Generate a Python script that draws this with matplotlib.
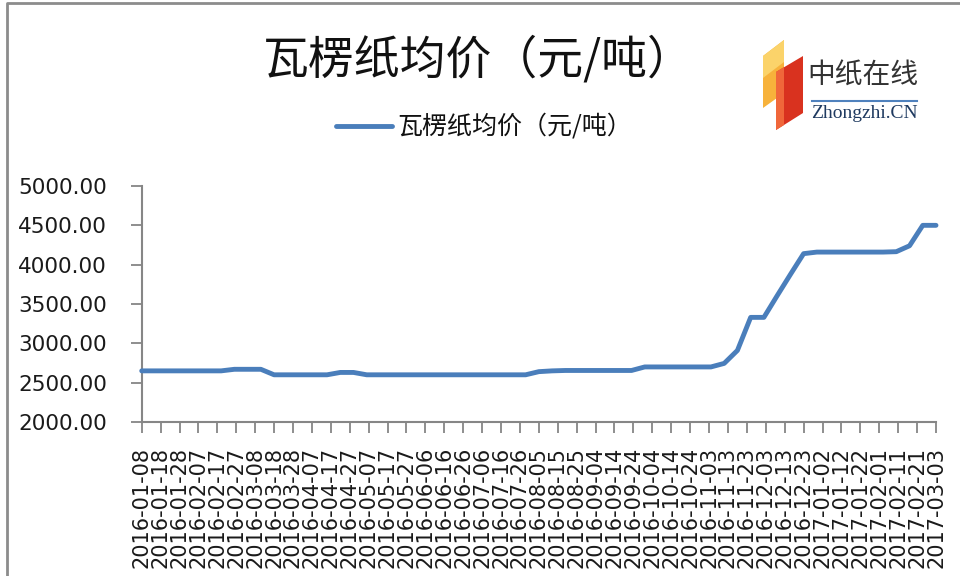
import matplotlib
matplotlib.use('Agg')
import matplotlib.pyplot as plt
import pandas as pd
import numpy as np
from matplotlib.patches import Polygon
from matplotlib.lines import Line2D

# ---------------- data ----------------
title_text = '瓦楞纸均价（元/吨）'
series_name = '瓦楞纸均价（元/吨）'
start_date = '2016-01-08'
end_date = '2017-03-03'
# weekly average price (yuan/ton), one value per week starting 2016-01-08
prices = [
    2650, 2650, 2650, 2650, 2650, 2650, 2650,          # 01-08 .. 02-19
    2670, 2670, 2670,                                  # 02-26 .. 03-11
    2600, 2600, 2600, 2600, 2600,                      # 03-18 .. 04-15
    2630, 2630,                                        # 04-22, 04-29
    2600, 2600, 2600, 2600, 2600, 2600, 2600, 2600,    # 05-06 .. 06-24
    2600, 2600, 2600, 2600, 2600,                      # 07-01 .. 07-29
    2640, 2650, 2655, 2655, 2655, 2655, 2655, 2655,    # 08-05 .. 09-23
    2700, 2700, 2700, 2700, 2700, 2700,                # 09-30 .. 11-04
    2745, 2910, 3330, 3330, 3605, 3875, 4140,          # 11-11 .. 12-23
    4160, 4160, 4160, 4160, 4160, 4160, 4165,          # 12-30 .. 2017-02-10
    4240, 4500, 4500,                                  # 02-17 .. 03-03
]
y_ticks = [2000, 2500, 3000, 3500, 4000, 4500, 5000]
logo_cn = '中纸在线'
logo_en = 'Zhongzhi.CN'

dates = pd.date_range(start_date, periods=len(prices), freq='7D')
tick_dates = pd.date_range(start_date, end_date, freq='10D')
tick_labels = [d.strftime('%Y-%m-%d') for d in tick_dates]

# ---------------- figure ----------------
plt.rcParams['font.family'] = ['DejaVu Sans']
CJK = ['Noto Sans CJK SC', 'DejaVu Sans']
W, H = 960, 576
fig = plt.figure(figsize=(W / 100, H / 100), dpi=100)

def fx(px):
    return px / W

def fy(py):
    return 1 - py / H

ax = fig.add_axes([fx(141.7), fy(422), (936 - 141.7) / W, (422 - 186) / H])
ax.plot(dates, prices, color='#4a7ebb', lw=3.5, solid_joinstyle='round',
        solid_capstyle='round', clip_on=False, zorder=3)
ax.set_xlim(dates[0], tick_dates[-1])
ax.set_ylim(2000, 5000)
ax.set_yticks(y_ticks)
ax.set_yticklabels(['%.2f' % v for v in y_ticks])
ax.set_xticks(tick_dates)
ax.set_xticklabels(tick_labels)

for s in ['top', 'right']:
    ax.spines[s].set_visible(False)
for s in ['left', 'bottom']:
    ax.spines[s].set_color('#868686')
    ax.spines[s].set_linewidth(1.5)

ax.tick_params(axis='y', direction='out', length=8, width=1.3, color='#868686',
               pad=17, labelsize=15.5, labelcolor='#1a1a1a')
ax.tick_params(axis='x', direction='out', length=8, width=1.3, color='#868686',
               pad=10, labelsize=15, labelcolor='#1a1a1a', labelrotation=90)

# title
fig.text(fx(478), fy(60), title_text, fontsize=33, ha='center', va='center',
         family=CJK, color='#111111')

# legend
fig.add_artist(Line2D([fx(336), fx(392)], [fy(126), fy(126)], color='#4a7ebb',
                      lw=3.5, solid_capstyle='round', transform=fig.transFigure))
fig.text(fx(397), fy(127), series_name, fontsize=18, ha='left', va='center',
         family=CJK, color='#111111')

# outer chart border
fig.add_artist(Line2D([fx(7), fx(7), fx(960)], [fy(576), fy(3), fy(3)],
                      color='#8c8c8c', lw=2, transform=fig.transFigure))

# logo
yellow = Polygon([(fx(763), fy(56)), (fx(784), fy(40)), (fx(784), fy(93)),
                  (fx(763), fy(108))], closed=True, transform=fig.transFigure,
                 facecolor='#f7b23b', edgecolor='none')
yellow_hi = Polygon([(fx(763), fy(56)), (fx(784), fy(40)), (fx(784), fy(62)),
                     (fx(763), fy(78))], closed=True, transform=fig.transFigure,
                    facecolor='#fbd36a', edgecolor='none')
red = Polygon([(fx(776), fy(72)), (fx(803), fy(56)), (fx(803), fy(113)),
               (fx(776), fy(130))], closed=True, transform=fig.transFigure,
              facecolor='#d9321f', edgecolor='none')
red_side = Polygon([(fx(776), fy(72)), (fx(784), fy(67)), (fx(784), fy(125)),
                    (fx(776), fy(130))], closed=True, transform=fig.transFigure,
                   facecolor='#f0673a', edgecolor='none')
for p in [yellow, yellow_hi, red, red_side]:
    fig.add_artist(p)
fig.text(fx(863), fy(76), logo_cn, fontsize=20, ha='center', va='center',
         family=CJK, color='#333333')
fig.add_artist(Line2D([fx(812), fx(917)], [fy(101), fy(101)], color='#4f81bd',
                      lw=1.5, transform=fig.transFigure))
fig.text(fx(864), fy(113), logo_en, fontsize=14, ha='center', va='center',
         family=['Liberation Serif', 'DejaVu Serif'], color='#1f3a60')

fig.savefig('out.png', dpi=100)
